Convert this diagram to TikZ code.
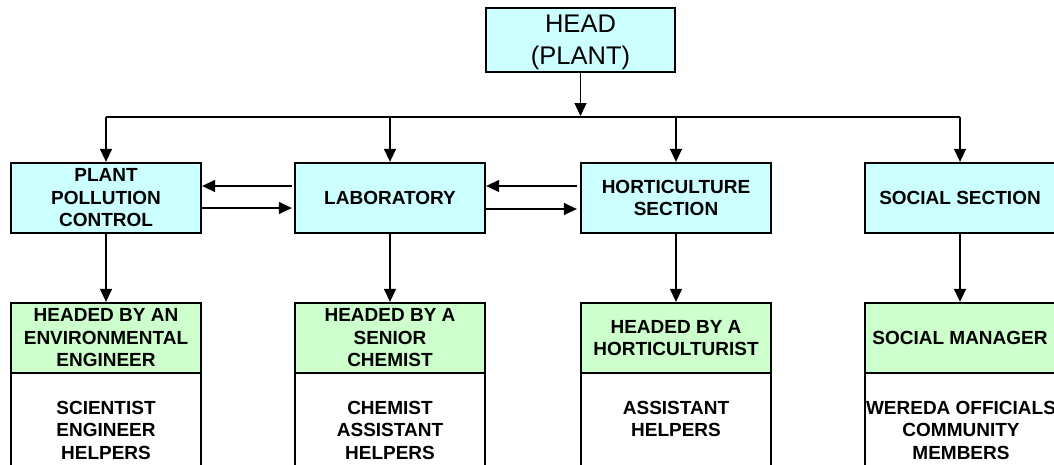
\documentclass[tikz,border=0pt]{standalone}
\usepackage{fontspec}
\setmainfont{Liberation Sans}
\usetikzlibrary{arrows.meta}
\definecolor{cyanbox}{HTML}{CCFFFF}
\definecolor{greenbox}{HTML}{CCFFCC}
\begin{document}
\begin{tikzpicture}[x=1pt,y=-1pt,
  boxbase/.style={draw=black, line width=2.3pt, minimum width=190pt, inner sep=0pt, align=center,
    font=\bfseries\fontsize{19}{22.5}\selectfont},
  unitbox/.style={boxbase, fill=cyanbox, minimum height=70pt},
  headbox/.style={draw=black, line width=2.3pt, fill=cyanbox, minimum width=189pt, minimum height=64pt,
    inner sep=0pt, align=center, text depth=0pt, font=\fontsize{25.5}{32}\selectfont},
  leadbox/.style={boxbase, fill=greenbox, minimum height=70pt},
  staffbox/.style={draw=black, line width=2.3pt, fill=white, minimum width=190pt, minimum height=130pt, inner sep=0pt},
  stafftext/.style={inner sep=0pt, align=center, anchor=north, font=\bfseries\fontsize{19}{22.5}\selectfont},
  conn/.style={draw=black, line width=1.4pt},
  arr/.style={conn, -{Triangle[length=13pt,width=12pt]}},
  bus/.style={draw=black, line width=2.3pt}
]
\useasboundingbox (0,0) rectangle (1054,464);

% head
\node[headbox] (head) at (580.5,40) {HEAD\\(PLANT)};

% bus coordinates
\coordinate (busL) at (106,117);
\coordinate (busR) at (960,117);

% level 1
\node[unitbox] (ppc) at (106,198) {PLANT\\POLLUTION\\CONTROL};
\node[unitbox] (lab) at (390,198) {LABORATORY};
\node[unitbox] (hort) at (676,198) {HORTICULTURE\\SECTION};
\node[unitbox] (soc) at (960,198) {SOCIAL SECTION};

% level 2 staff boxes (white, behind)
\node[staffbox, anchor=north] (ppcS) at (106,372) {};
\node[staffbox, anchor=north] (labS) at (390,372) {};
\node[staffbox, anchor=north] (hortS) at (676,372) {};
\node[staffbox, anchor=north] (socS) at (960,372) {};

% level 2 headers
\node[leadbox] (ppcH) at (106,338) {HEADED BY AN\\ENVIRONMENTAL\\ENGINEER};
\node[leadbox] (labH) at (390,338) {HEADED BY A\\SENIOR\\CHEMIST};
\node[leadbox] (hortH) at (676,338) {HEADED BY A\\HORTICULTURIST};
\node[leadbox] (socH) at (960,338) {SOCIAL MANAGER};

% staff texts
\node[stafftext] (ppcT) at (106,401) {SCIENTIST\\ENGINEER\\HELPERS};
\node[stafftext] (labT) at (390,401) {CHEMIST\\ASSISTANT\\HELPERS};
\node[stafftext] (hortT) at (676,401) {ASSISTANT\\HELPERS};
\node[stafftext] (socT) at (961,401) {WEREDA OFFICIALS\\COMMUNITY\\MEMBERS};

% connectors
\draw[arr, shorten >=1pt] (head.south) -- (head.south |- busL);
\draw[bus] (busL) -- (busR);
\draw[arr] (ppc.north |- busL) -- (ppc.north);
\draw[arr] (lab.north |- busL) -- (lab.north);
\draw[arr] (hort.north |- busL) -- (hort.north);
\draw[arr] (soc.north |- busL) -- (soc.north);

\draw[arr] (ppc.south) -- (ppcH.north);
\draw[arr] (lab.south) -- (labH.north);
\draw[arr] (hort.south) -- (hortH.north);
\draw[arr] (soc.south) -- (socH.north);

% side arrows
\draw[arr, shorten <=2pt] ([yshift=12pt]lab.west) -- ([yshift=12pt]ppc.east);
\draw[arr, shorten >=2pt] ([yshift=-10pt]ppc.east) -- ([yshift=-10pt]lab.west);
\draw[arr, shorten <=3pt] ([yshift=12pt]hort.west) -- ([yshift=12pt]lab.east);
\draw[arr, shorten >=3pt] ([yshift=-11pt]lab.east) -- ([yshift=-11pt]hort.west);
\end{tikzpicture}
\end{document}
